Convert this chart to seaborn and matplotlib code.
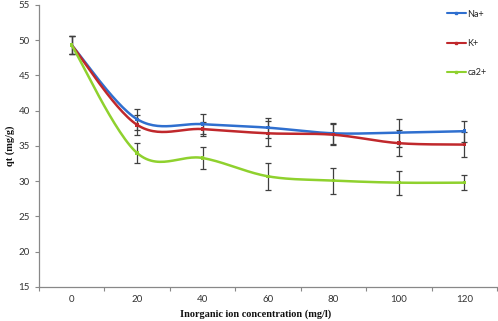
import numpy as np
import pandas as pd
import matplotlib
matplotlib.use("Agg")
import matplotlib.pyplot as plt
import seaborn as sns
from matplotlib.lines import Line2D

categories = ["0", "20", "40", "60", "80", "100", "120"]
na_vals = [49.3, 38.8, 38.1, 37.6, 36.8, 36.9, 37.1]
k_vals = [49.3, 38.0, 37.4, 36.8, 36.6, 35.4, 35.2]
ca_vals = [49.3, 34.0, 33.3, 30.7, 30.1, 29.8, 29.8]
na_err = [1.3, 1.5, 1.4, 1.4, 1.5, 2.0, 1.5]
k_err = [1.3, 1.4, 1.0, 1.8, 1.5, 1.8, 1.8]
ca_err = [1.3, 1.4, 1.5, 1.9, 1.85, 1.7, 1.1]
series_names = ["Na+", "K+", "ca2+"]
colors = ["#2F6FCF", "#C0282C", "#8FD12E"]

sns.set_style("white")
plt.rcParams["font.family"] = ["Lato", "DejaVu Sans"]

fig = plt.figure(figsize=(4.98, 3.21), dpi=100)
ax = fig.add_axes([39 / 498, 1 - 287 / 321, (497 - 39) / 498, (287 - 5) / 321])

x = np.arange(len(categories))

def smooth(xs, ys, n=30):
    xs = np.asarray(xs, float); ys = np.asarray(ys, float)
    px = np.concatenate([[xs[0]], xs, [xs[-1]]])
    py = np.concatenate([[ys[0]], ys, [ys[-1]]])
    ox, oy = [], []
    t = np.linspace(0, 1, n)
    for i in range(1, len(px) - 2):
        p0 = np.array([px[i], py[i]]); p3 = np.array([px[i + 1], py[i + 1]])
        p1 = p0 + (np.array([px[i + 1], py[i + 1]]) - np.array([px[i - 1], py[i - 1]])) / 6
        p2 = p3 - (np.array([px[i + 2], py[i + 2]]) - np.array([px[i], py[i]])) / 6
        b = ((1 - t) ** 3)[:, None] * p0 + (3 * (1 - t) ** 2 * t)[:, None] * p1 + \
            (3 * (1 - t) * t ** 2)[:, None] * p2 + (t ** 3)[:, None] * p3
        ox.extend(b[:, 0]); oy.extend(b[:, 1])
    return np.array(ox), np.array(oy)

frames = []
for name, vals, errs in zip(series_names, [na_vals, k_vals, ca_vals], [na_err, k_err, ca_err]):
    frames.append(pd.DataFrame({"x": x, "y": vals, "err": errs, "ion": name}))
df = pd.concat(frames)

for name, col in zip(series_names, colors):
    d = df[df.ion == name]
    ax.errorbar(d.x, d.y, yerr=d.err, fmt="none", ecolor="#404040", elinewidth=0.9,
                capsize=2.5, capthick=0.9, zorder=2)
for name, col in zip(series_names, colors):
    d = df[df.ion == name]
    sx, sy = smooth(d.x, d.y)
    ax.plot(sx, sy, color=col, lw=1.8, zorder=3)
sns.scatterplot(data=df, x="x", y="y", hue="ion", palette=colors, s=6, marker="s",
                linewidth=0, legend=False, ax=ax, zorder=4)

ax.set_xlim(-0.5, 6.5)
ax.set_ylim(15, 55)
ax.set_yticks(np.arange(15, 56, 5))
ax.set_xticks(x)
ax.set_xticklabels(categories)
ax.set_xticks(np.arange(-0.5, 7, 1), minor=True)
ax.tick_params(axis="x", which="major", length=0, labelsize=7, pad=6, colors="#333333")
ax.tick_params(axis="x", which="minor", length=3, width=0.8, color="#888888", direction="out", bottom=True)
ax.tick_params(axis="y", length=3, width=0.8, color="#888888", labelsize=7, colors="#333333", left=True)
for s in ["top", "right"]:
    ax.spines[s].set_visible(False)
for s in ["left", "bottom"]:
    ax.spines[s].set_color("#888888")
    ax.spines[s].set_linewidth(0.9)

ax.set_xlabel("Inorganic ion concentration (mg/l)", fontsize=7.4, fontweight="bold",
              family=["Liberation Serif", "DejaVu Serif"], color="#111111", va="center")
ax.set_ylabel("qt (mg/g)", fontsize=7.4, fontweight="bold",
              family=["Liberation Serif", "DejaVu Serif"], color="#111111", va="center")
ax.xaxis.set_label_coords(0.474, -(314 - 287) / 282)
ax.yaxis.set_label_coords(-(39 - 10) / 458, 0.5)

handles = [Line2D([0], [0], color=c, lw=1.5, marker="s", markersize=2) for c in colors]
leg = ax.legend(handles, series_names, loc="upper left", frameon=False, fontsize=6.5,
                handlelength=2.1, handletextpad=0.2, labelspacing=2.25, borderaxespad=0.0)
leg.set_bbox_to_anchor((443 / 498, 1 - 6 / 321), transform=fig.transFigure)

fig.savefig("out.png", dpi=100)
